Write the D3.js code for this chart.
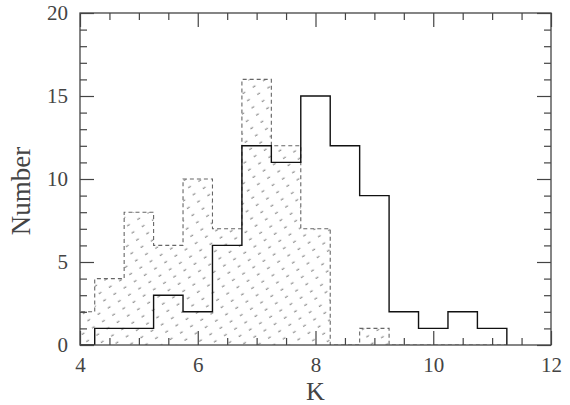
<!DOCTYPE html>
<html><head><meta charset="utf-8">
<script src="https://cdn.jsdelivr.net/npm/d3@7"></script>
<style>body{margin:0;background:#fff}svg{display:block}</style>
</head><body>
<script>
// Bin centres (bin width 0.5)
const binCenters = [4.0,4.5,5.0,5.5,6.0,6.5,7.0,7.5,8.0,8.5,9.0,9.5,10.0,10.5,11.0];
const solidCounts = [0,1,1,3,2,6,12,11,15,12,9,2,1,2,1];
const dashedCounts = [2,4,8,6,10,7,16,12,7,0,1,0,0,0,0];
const binWidth = 0.5;
const xMajorTicks = [4,6,8,10,12];
const yMajorTicks = [0,5,10,15,20];
const xLabel = "K", yLabel = "Number";

const W = 570, H = 405;
const m = {left: 80, right: 19, top: 13, bottom: 60};
const svg = d3.select("body").append("svg").attr("width", W).attr("height", H);
const x = d3.scaleLinear().domain([4,12]).range([m.left, W - m.right]);
const y = d3.scaleLinear().domain([0,20]).range([H - m.bottom, m.top]);

const defs = svg.append("defs");
defs.append("clipPath").attr("id","clip").append("rect")
  .attr("x", x(4)).attr("y", y(20)).attr("width", x(12)-x(4)).attr("height", y(0)-y(20));
const pat = defs.append("pattern").attr("id","hatch").attr("patternUnits","userSpaceOnUse")
  .attr("width", 12).attr("height", 8.5).attr("patternTransform","rotate(-32)");
pat.append("line").attr("x1",0).attr("y1",4).attr("x2",3.2).attr("y2",4)
  .attr("stroke","#666").attr("stroke-width",0.9);

function stepPoints(counts){
  const pts = [];
  counts.forEach((c,i)=>{
    const lo = binCenters[i]-binWidth/2, hi = binCenters[i]+binWidth/2;
    if(i===0) pts.push([lo,0]);
    pts.push([lo,c]); pts.push([hi,c]);
  });
  const last = binCenters[binCenters.length-1]+binWidth/2;
  pts.push([last,0]);
  return pts;
}
const line = d3.line().x(d=>x(d[0])).y(d=>y(d[1]));
const area = d3.area().x(d=>x(d[0])).y0(y(0)).y1(d=>y(d[1]));

const g = svg.append("g").attr("clip-path","url(#clip)");
const dPts = stepPoints(dashedCounts);
g.append("path").attr("d", area(dPts)).attr("fill","url(#hatch)");
g.append("path").attr("d", line(dPts)).attr("fill","none")
  .attr("stroke","#666").attr("stroke-width",1.1).attr("stroke-dasharray","4,3");
g.append("path").attr("d", line(stepPoints(solidCounts))).attr("fill","none")
  .attr("stroke","#111").attr("stroke-width",1.4);

// frame
svg.append("rect").attr("x", x(4)).attr("y", y(20)).attr("width", x(12)-x(4)).attr("height", y(0)-y(20))
  .attr("fill","none").attr("stroke","#444").attr("stroke-width",1.3);

const xMinor = d3.range(4, 12.01, 0.5).filter(v=>!xMajorTicks.includes(v));
const yMinor = d3.range(0, 20.01, 1).filter(v=>!yMajorTicks.includes(v));
const font = "'Liberation Serif', 'DejaVu Serif', serif";

function styleAxis(sel){
  sel.select(".domain").remove();
  sel.selectAll(".tick line").attr("stroke","#444").attr("stroke-width",1.2);
  sel.selectAll("text").attr("font-family",font).attr("font-size",21).attr("fill","#444");
}
// bottom
svg.append("g").attr("transform",`translate(0,${y(0)})`)
  .call(d3.axisBottom(x).tickValues(xMajorTicks).tickSize(-14).tickPadding(12).tickFormat(d3.format("d"))).call(styleAxis);
svg.append("g").attr("transform",`translate(0,${y(0)})`)
  .call(d3.axisBottom(x).tickValues(xMinor).tickSize(-7).tickFormat("")).call(styleAxis);
// top
svg.append("g").attr("transform",`translate(0,${y(20)})`)
  .call(d3.axisTop(x).tickValues(xMajorTicks).tickSize(-14).tickFormat("")).call(styleAxis);
svg.append("g").attr("transform",`translate(0,${y(20)})`)
  .call(d3.axisTop(x).tickValues(xMinor).tickSize(-7).tickFormat("")).call(styleAxis);
// left
svg.append("g").attr("transform",`translate(${x(4)},0)`)
  .call(d3.axisLeft(y).tickValues(yMajorTicks).tickSize(-14).tickPadding(12).tickFormat(d3.format("d"))).call(styleAxis);
svg.append("g").attr("transform",`translate(${x(4)},0)`)
  .call(d3.axisLeft(y).tickValues(yMinor).tickSize(-7).tickFormat("")).call(styleAxis);
// right
svg.append("g").attr("transform",`translate(${x(12)},0)`)
  .call(d3.axisRight(y).tickValues(yMajorTicks).tickSize(-14).tickFormat("")).call(styleAxis);
svg.append("g").attr("transform",`translate(${x(12)},0)`)
  .call(d3.axisRight(y).tickValues(yMinor).tickSize(-7).tickFormat("")).call(styleAxis);

svg.append("text").attr("x", (x(4)+x(12))/2).attr("y", 400).attr("text-anchor","middle")
  .attr("font-family",font).attr("font-size",26).attr("fill","#444").text(xLabel);
svg.append("text").attr("transform",`translate(30,${(y(0)+y(20))/2 + 12}) rotate(-90)`).attr("text-anchor","middle")
  .attr("font-family",font).attr("font-size",27).attr("fill","#444").text(yLabel);
</script>
</body></html>
